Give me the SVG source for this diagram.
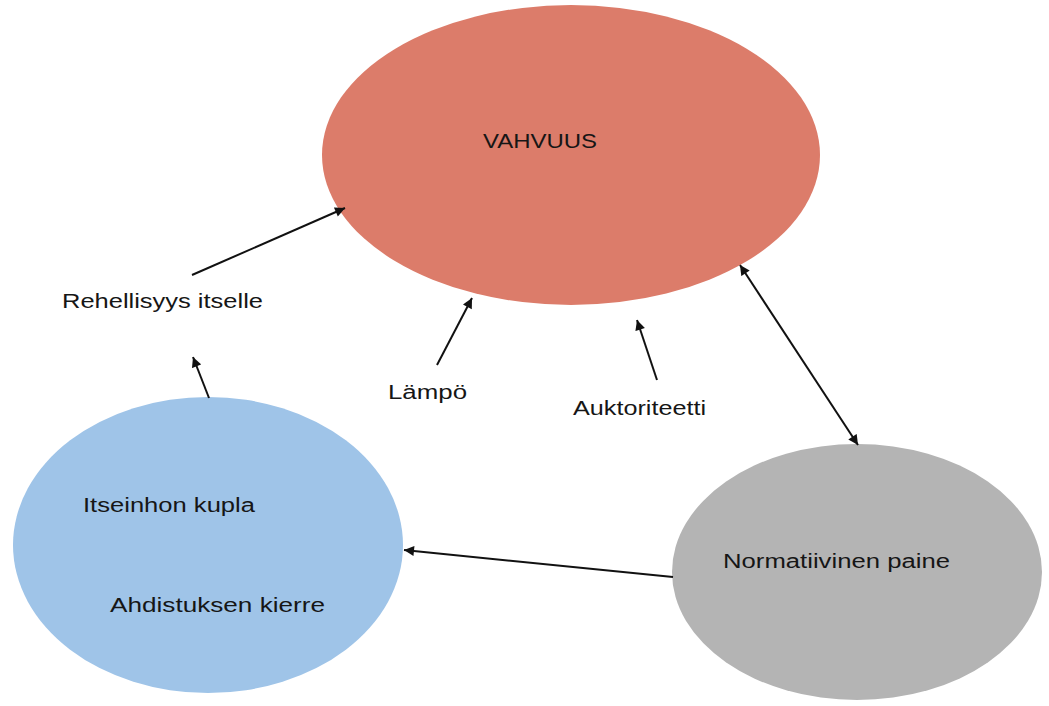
<svg xmlns="http://www.w3.org/2000/svg" width="1049" height="706" viewBox="0 0 1049 706">
<defs>
<style>
.lbl{font-family:"Liberation Sans",Arial,sans-serif;font-size:20px;fill:#161616}
.con{stroke:#111;stroke-width:2;fill:none}
</style>
<marker id="ah" viewBox="0 0 10 10" refX="10" refY="5" markerWidth="11" markerHeight="10" markerUnits="userSpaceOnUse" orient="auto-start-reverse">
<path d="M0,0 L10,5 L0,10 z" fill="#111"/>
</marker>
</defs>
<rect width="1049" height="706" fill="#ffffff"/>
<g id="node-vahvuus">
<ellipse cx="571" cy="155" rx="249" ry="150" fill="#DC7C6A"/>
<text class="lbl" x="483" y="148" textLength="114" lengthAdjust="spacingAndGlyphs">VAHVUUS</text>
</g>
<g id="node-itseinho">
<ellipse cx="208" cy="545" rx="195" ry="148" fill="#9FC4E8"/>
<text class="lbl" x="83" y="512" textLength="172" lengthAdjust="spacingAndGlyphs">Itseinhon kupla</text>
<text class="lbl" x="110" y="612" textLength="215" lengthAdjust="spacingAndGlyphs">Ahdistuksen kierre</text>
</g>
<g id="node-normatiivinen">
<ellipse cx="857" cy="572" rx="185" ry="128" fill="#B4B4B4"/>
<text class="lbl" x="723" y="568" textLength="227" lengthAdjust="spacingAndGlyphs">Normatiivinen paine</text>
</g>
<g id="node-rehellisyys">
<text class="lbl" x="62" y="308" textLength="201" lengthAdjust="spacingAndGlyphs">Rehellisyys itselle</text>
</g>
<g id="node-lampo">
<text class="lbl" x="388" y="399" textLength="79" lengthAdjust="spacingAndGlyphs">Lämpö</text>
</g>
<g id="node-auktoriteetti">
<text class="lbl" x="573" y="415" textLength="133" lengthAdjust="spacingAndGlyphs">Auktoriteetti</text>
</g>
<g id="connectors">
<line class="con" x1="192" y1="275" x2="345" y2="208" marker-end="url(#ah)"/>
<line class="con" x1="437" y1="365" x2="472" y2="298" marker-end="url(#ah)"/>
<line class="con" x1="657" y1="380" x2="637" y2="320" marker-end="url(#ah)"/>
<line class="con" x1="740" y1="265" x2="858" y2="445" marker-start="url(#ah)" marker-end="url(#ah)"/>
<line class="con" x1="673" y1="577" x2="404" y2="550" marker-end="url(#ah)"/>
<line class="con" x1="209" y1="398" x2="193" y2="357" marker-end="url(#ah)"/>
</g>
</svg>
